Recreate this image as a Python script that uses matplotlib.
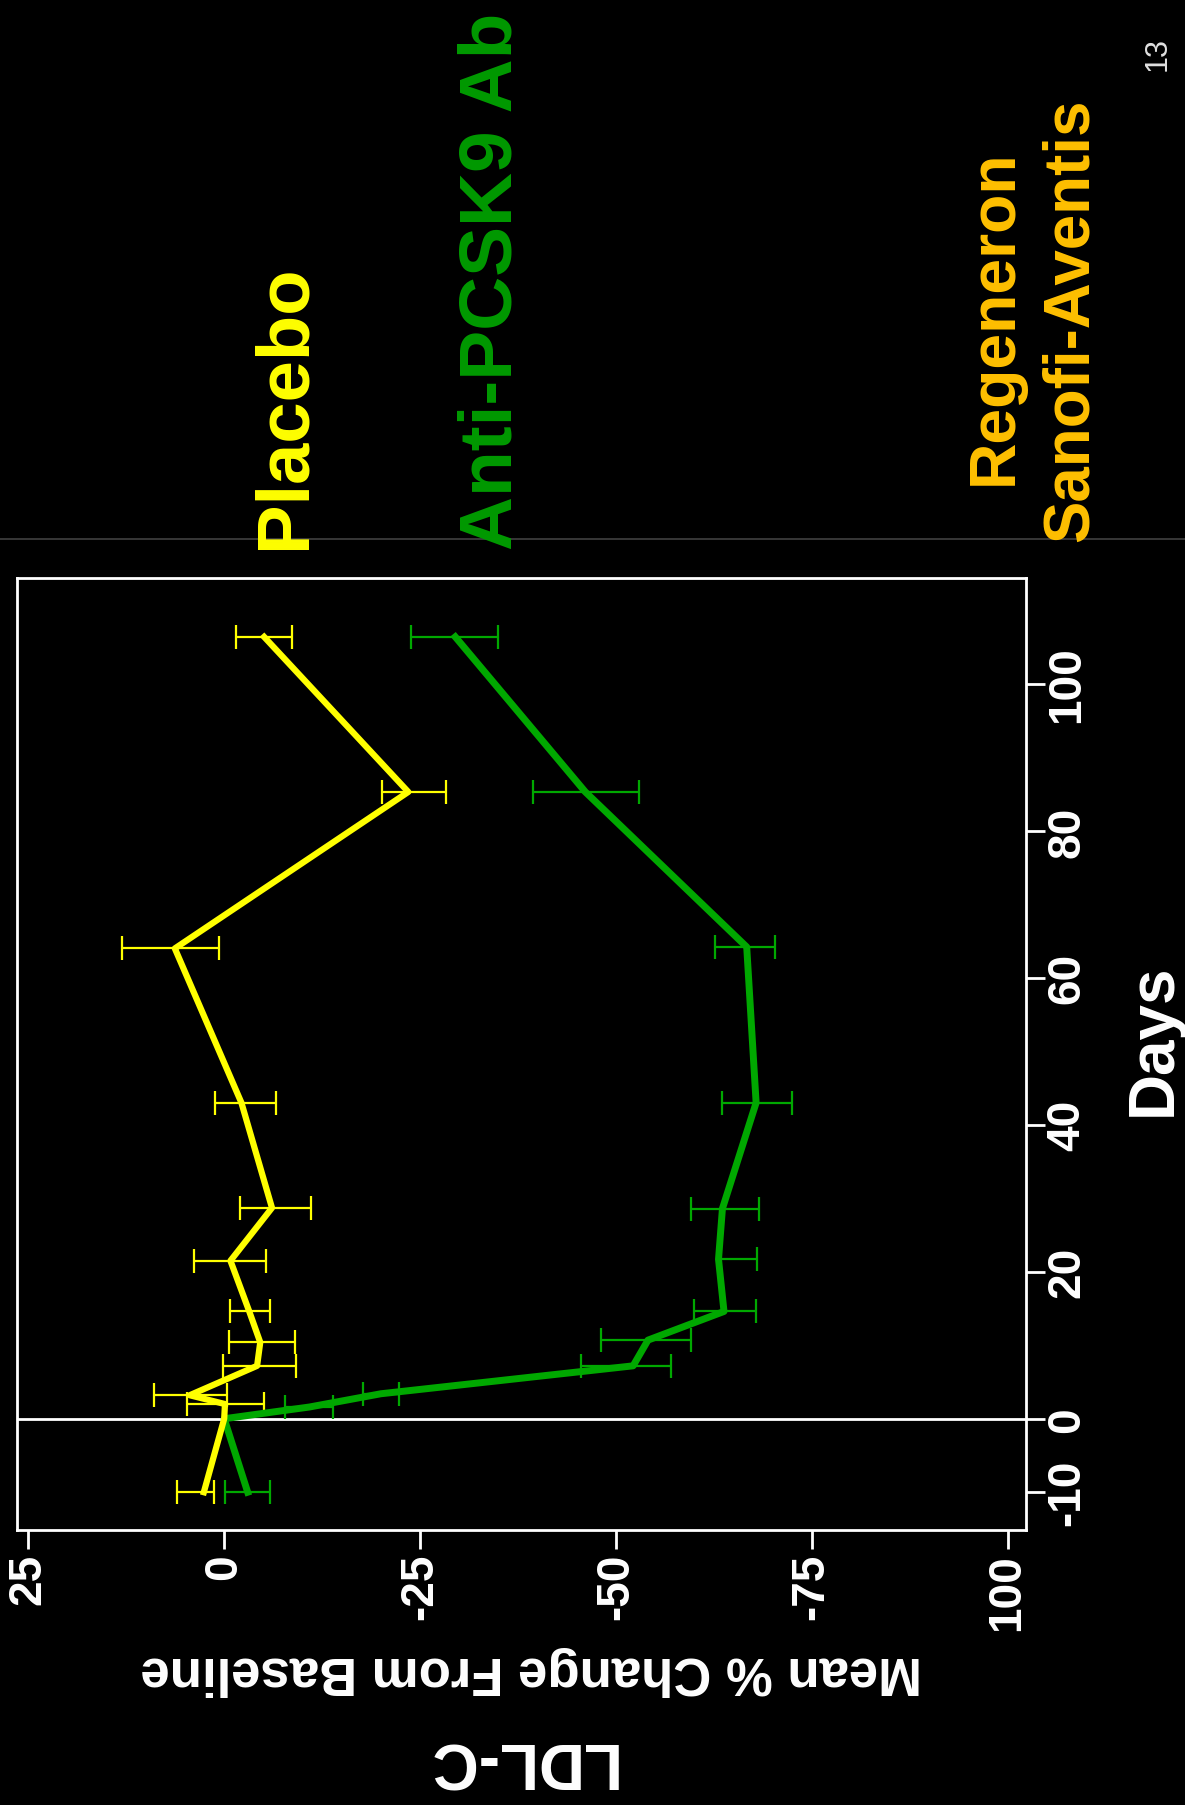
import numpy as np
import matplotlib.pyplot as plt
from matplotlib.lines import Line2D

# Данные (слайд повернут на 90 градусов: дни по вертикали, % по горизонтали)
days_placebo = [-10, 0, 2, 3.2, 7.2, 10.4, 14.6, 21.5, 28.7, 43, 64, 85.3, 106.4]
placebo = [2.6, 0.0, -0.1, 4.4, -4.2, -4.6, -3.2, -0.8, -6.1, -2.2, 6.3, -23.5, -5.1]
placebo_hi = [6.0, np.nan, 4.7, 8.9, 0.2, -0.6, -0.8, 3.8, -2.0, 1.2, 13.0, -20.1, -1.5]
placebo_lo = [1.35, np.nan, -5.1, -0.3, -9.2, -9.0, -5.9, -5.4, -11.1, -6.6, 0.6, -28.3, -8.7]

days_pcsk9 = [-10, 0, 1.6, 3.4, 7.2, 10.7, 14.6, 21.7, 28.6, 43, 64.2, 85.3, 106.4]
pcsk9 = [-3.0, 0.0, -10.9, -20.0, -52.2, -54.1, -63.8, -63.1, -63.6, -67.9, -66.7, -46.1, -29.5]
pcsk9_hi = [-0.1, np.nan, -7.8, -17.7, -45.5, -48.1, -60.0, -63.1, -59.6, -63.5, -62.6, -39.4, -23.9]
pcsk9_lo = [-5.9, np.nan, -13.9, -22.3, -57.0, -59.6, -67.9, -68.0, -68.3, -72.5, -70.3, -52.9, -35.0]

pct_ticks = [25, 0, -25, -50, -75, -100]
pct_labels = ["25", "0", "-25", "-50", "-75", "100"]
day_ticks = [-10, 0, 20, 40, 60, 80, 100]

YELLOW = "#FFFF00"
GREEN = "#00A800"
GOLD = "#FFC000"
FONT = "Liberation Sans"

W, H = 1185, 1806
fig = plt.figure(figsize=(W / 100, H / 100), dpi=100, facecolor="black")


def px(x, y):
    # пиксели (от левого верхнего угла) -> доли фигуры
    return x / W, 1 - y / H


ax = fig.add_axes([16.6 / W, 1 - 1530.7 / H, 1009 / W, 951.6 / H])
ax.set_facecolor("black")
ax.set_xlim(26.5, -102.3)
ax.set_ylim(-15.1, 114.4)

ax.axhline(0, color="white", lw=2, zorder=1)


def draw(days, vals, hi, lo, color, lw):
    days = np.array(days)
    vals = np.array(vals)
    hi = np.array(hi)
    lo = np.array(lo)
    m = np.isfinite(hi)
    ax.errorbar(vals[m], days[m], xerr=[vals[m] - lo[m], hi[m] - vals[m]],
                fmt="none", ecolor=color, elinewidth=1.6, capsize=8.3,
                capthick=1.6, zorder=2)
    ax.plot(vals, days, color=color, lw=lw, zorder=3, solid_joinstyle="round")


draw(days_pcsk9, pcsk9, pcsk9_hi, pcsk9_lo, GREEN, 5.0)
draw(days_placebo, placebo, placebo_hi, placebo_lo, YELLOW, 4.5)

for s in ax.spines.values():
    s.set_color("white")
    s.set_linewidth(2)

ax.set_xticks(pct_ticks)
ax.set_xticklabels(pct_labels, rotation=90, va="top", ha="center")
ax.yaxis.tick_right()
ax.set_yticks(day_ticks)
ax.set_yticklabels([str(d) for d in day_ticks], rotation=90, va="center", ha="left")
ax.tick_params(axis="both", colors="white", length=13.7, width=2)
ax.tick_params(axis="x", pad=3)
ax.tick_params(axis="y", pad=0.5)
for lab in ax.get_xticklabels() + ax.get_yticklabels():
    lab.set_fontfamily(FONT)
    lab.set_fontweight("bold")
    lab.set_fontsize(33)
    lab.set_color("white")

# тонкая серая линия под заголовком
fig.add_artist(Line2D([0, 1], [1 - 540 / H, 1 - 540 / H], color="#404040", lw=1.2))


def label(x, y, s, size, color, rot=90, weight="bold", ha="left"):
    fig.text(*px(x, y), s, rotation=rot, rotation_mode="anchor", ha=ha,
             va="baseline", fontsize=size, color=color, fontfamily=FONT,
             fontweight=weight)


label(305, 549, "Placebo", 53.5, YELLOW)
label(512, 550, "Anti-PCSK9 Ab", 53.8, "#009A00")
label(1012, 485, "Regeneron", 46.3, GOLD)
label(1088, 542, "Sanofi-Aventis", 45.8, GOLD)
label(1166, 71, "13", 22, "#E0E0E0", weight="normal")
label(1171, 1116, "Days", 46, "white")
label(531, 1657, "Mean % Change From Baseline", 38, "white", rot=180, ha="center")
label(519, 1743, "LDL-C", 46, "white", rot=180, ha="center")

fig.savefig("out.png", dpi=100, facecolor="black")
